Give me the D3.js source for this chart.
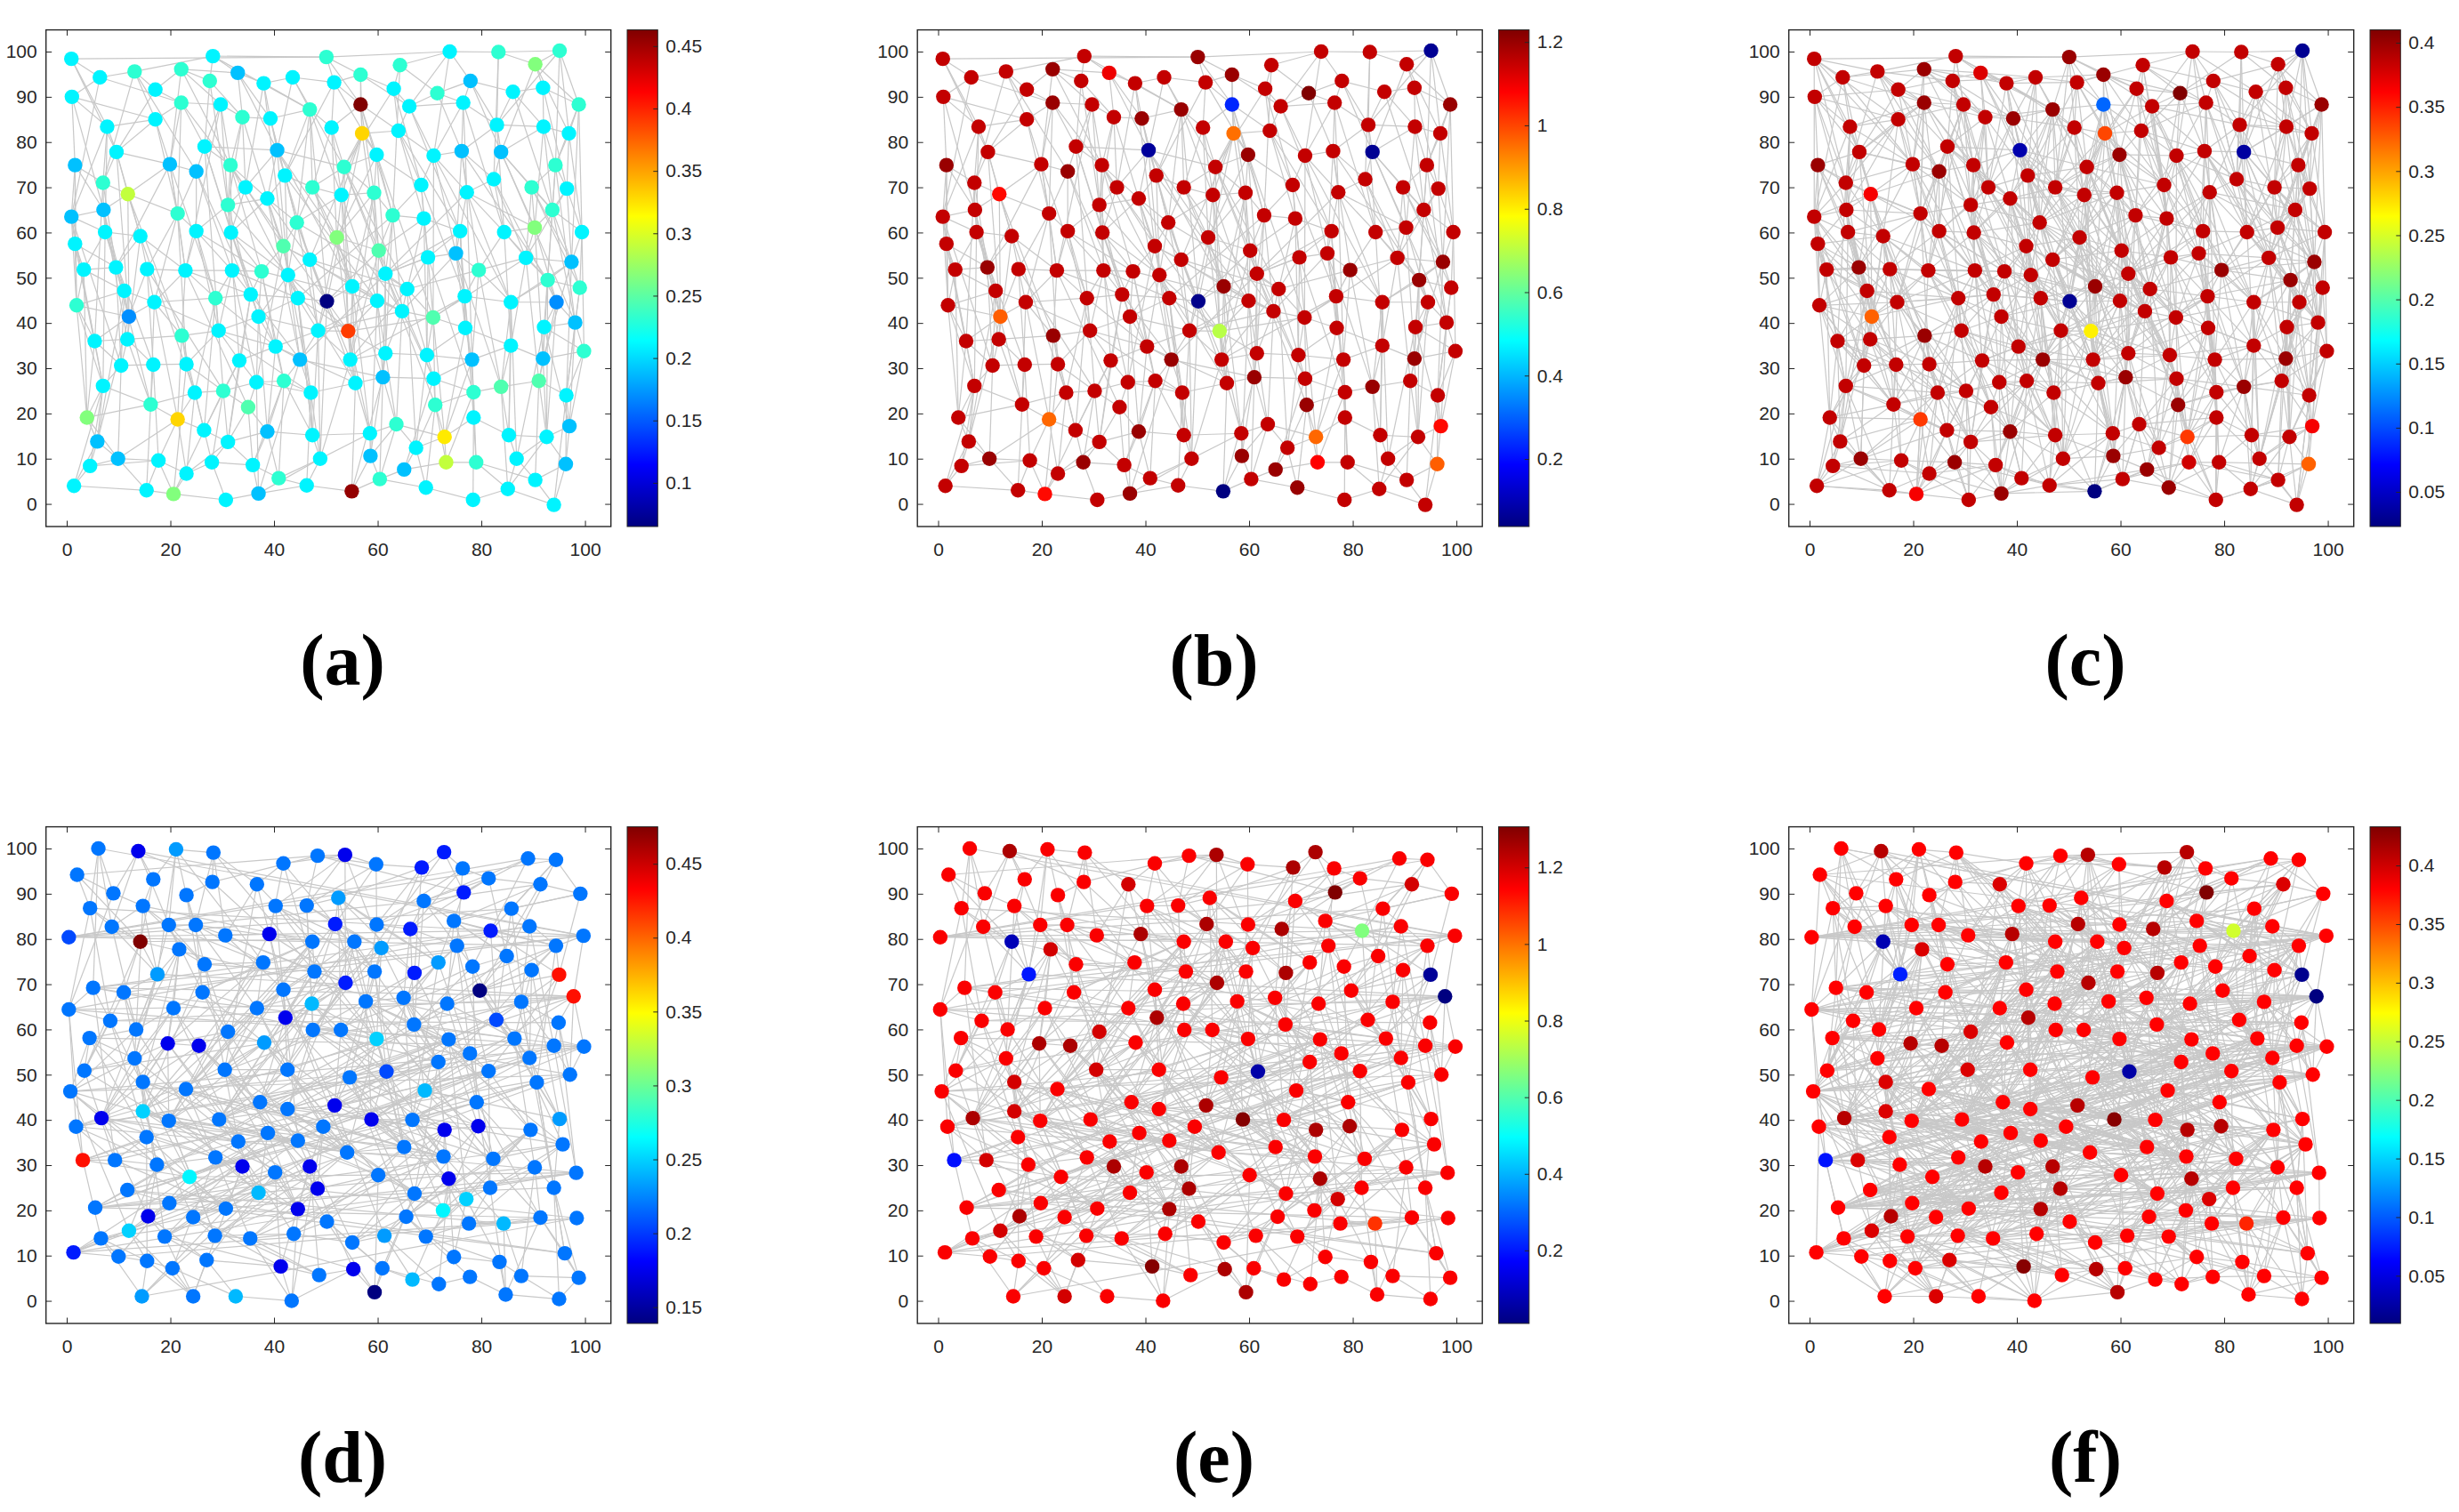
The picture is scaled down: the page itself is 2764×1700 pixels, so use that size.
<!DOCTYPE html>
<html>
<meta charset="utf-8">
<head>
  <script src="https://d3js.org/d3.v7.min.js"></script>
  <style>
    body { margin: 0; background: #fff; }
  </style>
</head>
<body>
<svg id="fig" width="2764" height="1700"></svg>
<script>
// node table of the upper network: [x, y, value (a), value (b), value (c)]
var topNodes = [
[0.9,98.4,.21,1.15,.385],[1.0,90.0,.21,1.15,.385],[6.4,94.3,.21,1.15,.385],[13.1,95.6,.232,1.15,.385],[17.1,91.6,.21,1.15,.385],
[22.1,96.1,.232,1.2,.4],[27.6,93.5,.232,1.15,.385],[28.2,99.0,.21,1.15,.385],[33.0,95.3,.19,1.1,.375],[38.0,93.0,.21,1.15,.385],
[43.6,94.3,.21,1.15,.385],[50.1,98.8,.232,1.2,.4],[51.6,93.2,.21,1.15,.385],[56.7,94.9,.232,1.2,.4],[63.1,91.8,.21,1.15,.385],
[64.3,97.0,.232,1.15,.385],[71.5,90.8,.232,1.229,.41],[73.9,100,.21,1.15,.385],[77.9,93.5,.19,1.15,.385],[83.3,99.9,.232,1.15,.385],
[86.1,91.1,.21,1.15,.385],[90.4,97.2,.265,1.15,.385],[91.9,92.0,.21,1.15,.385],[95.1,100.2,.232,.06,.03],
[7.8,83.4,.21,1.15,.385],[17.1,85.0,.21,1.15,.385],[22.1,88.7,.232,1.2,.4],[29.7,88.3,.21,1.15,.385],[33.9,85.5,.232,1.15,.385],
[39.3,85.2,.21,1.2,.4],[46.9,87.2,.232,1.2,.4],[51.1,83.2,.21,1.15,.385],[56.7,88.3,.463,.23,.11],[57.0,81.9,.33,.95,.335],
[64.0,82.5,.21,1.15,.385],[66.1,87.9,.21,1.15,.385],[76.5,88.7,.21,1.15,.385],[83.0,83.8,.21,1.15,.385],[92.0,83.4,.21,1.15,.385],
[96.9,81.9,.21,1.15,.385],[98.8,88.3,.232,1.2,.4],
[1.6,74.9,.19,1.2,.4],[7.0,71.0,.232,1.15,.385],[9.6,77.8,.21,1.15,.385],[19.9,75.1,.19,1.15,.385],[25.0,73.5,.19,1.2,.4],
[26.6,79.0,.21,1.15,.385],[31.6,74.9,.232,1.15,.385],[34.5,70.0,.21,1.15,.385],[40.6,78.2,.19,.07,.04],[42.1,72.6,.21,1.15,.385],
[47.4,70.0,.232,1.15,.385],[53.5,74.5,.232,1.15,.385],[59.8,77.2,.21,1.2,.4],[68.4,70.5,.21,1.15,.385],[70.8,77.0,.21,1.15,.385],
[76.2,78.0,.19,1.15,.385],[82.4,71.8,.21,1.15,.385],[83.8,77.8,.19,.06,.035],[89.7,70.0,.232,1.15,.385],[94.3,74.9,.232,1.15,.385],
[96.5,69.7,.21,1.15,.385],
[0.9,63.5,.19,1.15,.385],[7.1,65.0,.19,1.15,.385],[7.4,60.1,.21,1.15,.385],[11.8,68.5,.29,1.07,.365],[21.4,64.2,.232,1.15,.385],
[25.0,60.3,.21,1.15,.385],[31.1,66.1,.232,1.15,.385],[31.7,60.0,.21,1.15,.385],[38.7,67.5,.21,1.15,.385],[44.4,62.2,.232,1.15,.385],
[53.0,68.3,.21,1.15,.385],[59.3,68.8,.232,1.15,.385],[62.9,63.8,.232,1.15,.385],[68.9,63.1,.21,1.15,.385],[75.9,60.3,.21,1.15,.385],
[77.2,68.9,.21,1.15,.385],[84.4,60.1,.21,1.15,.385],[90.3,61.1,.265,1.15,.385],[93.7,65.0,.232,1.15,.385],[99.4,60.1,.21,1.15,.385],
[1.6,57.5,.21,1.15,.385],[3.3,51.8,.21,1.15,.385],[9.5,52.3,.21,1.2,.4],[14.2,59.2,.21,1.15,.385],[15.5,51.9,.21,1.15,.385],
[22.9,51.6,.21,1.15,.385],[31.9,51.6,.21,1.15,.385],[37.6,51.4,.232,1.15,.385],[41.8,57.0,.245,1.15,.385],[42.7,50.6,.21,1.15,.385],
[46.9,54.0,.21,1.15,.385],[52.1,58.9,.265,1.15,.385],[60.2,56.0,.245,1.15,.385],[61.5,50.9,.21,1.15,.385],[69.7,54.5,.21,1.15,.385],
[75.1,55.4,.19,1.15,.385],[79.5,51.7,.232,1.2,.4],[88.6,54.4,.21,1.15,.385],[97.4,53.5,.19,1.2,.4],
[1.9,43.9,.232,1.15,.385],[11.1,47.1,.21,1.15,.385],[12.0,41.4,.17,.97,.325],[16.9,44.6,.21,1.15,.385],[28.7,45.5,.232,1.15,.385],
[35.5,46.3,.21,1.15,.385],[37.0,41.4,.21,1.15,.385],[44.6,45.5,.21,1.15,.385],[50.2,44.8,.065,.05,.03],[55.1,48.1,.21,1.2,.4],
[59.9,44.9,.21,1.15,.385],[64.7,42.6,.21,1.15,.385],[65.7,47.5,.21,1.15,.385],[70.7,41.2,.245,1.15,.385],[76.8,45.9,.21,1.15,.385],
[85.7,44.6,.21,1.15,.385],[92.8,49.5,.232,1.2,.4],[94.5,44.6,.17,1.15,.385],[98.1,40.1,.19,1.15,.385],[99.0,47.8,.232,1.15,.385],
[5.4,36.0,.21,1.15,.385],[10.5,30.6,.21,1.15,.385],[11.7,36.4,.21,1.15,.385],[16.7,30.8,.21,1.15,.385],[22.2,37.2,.232,1.2,.4],
[23.1,30.9,.21,1.15,.385],[29.3,38.3,.21,1.15,.385],[33.3,31.7,.21,1.15,.385],[40.3,34.8,.21,1.15,.385],[45.0,31.9,.19,1.2,.4],
[48.5,38.3,.21,1.15,.385],[54.3,38.2,.39,.7,.27],[54.7,31.9,.21,1.15,.385],[61.5,33.3,.21,1.15,.385],[69.5,32.9,.21,1.15,.385],
[76.9,38.9,.21,1.15,.385],[78.2,31.9,.19,1.15,.385],[85.7,35.0,.21,1.15,.385],[91.9,32.1,.19,1.2,.4],[92.1,39.1,.21,1.15,.385],
[99.8,33.8,.232,1.15,.385],
[7.0,26.1,.21,1.15,.385],[16.2,22.0,.232,1.15,.385],[24.7,24.6,.21,1.15,.385],[30.2,25.0,.232,1.15,.385],[35.0,21.4,.245,1.15,.385],
[36.6,26.9,.21,1.15,.385],[41.9,27.2,.232,1.15,.385],[47.1,24.6,.21,1.15,.385],[55.7,26.7,.21,1.15,.385],[61.0,28.0,.19,1.2,.4],
[70.8,27.7,.21,1.15,.385],[71.1,21.9,.232,1.2,.4],[78.5,24.7,.232,1.15,.385],[83.8,25.9,.245,1.2,.4],[91.1,27.2,.245,1.15,.385],
[96.4,24.0,.21,1.15,.385],
[3.9,19.1,.265,1.15,.385],[5.9,13.8,.19,1.15,.385],[9.9,10.0,.19,1.2,.4],[21.4,18.7,.33,.96,.34],[26.5,16.3,.21,1.15,.385],
[31.1,13.7,.21,1.15,.385],[38.7,16.0,.19,1.2,.4],[47.4,15.2,.21,1.15,.385],[48.9,10.0,.21,1.15,.385],[58.5,15.6,.21,1.15,.385],
[58.6,10.6,.19,1.2,.4],[63.6,17.6,.232,1.15,.385],[67.4,12.4,.21,1.15,.385],[72.9,14.8,.322,.96,.34],[78.5,19.1,.21,1.15,.385],
[85.3,15.2,.21,1.15,.385],[86.8,10.0,.21,1.15,.385],[92.6,14.8,.21,1.15,.385],[97.0,17.2,.19,1.07,.365],
[1.4,4.0,.21,1.15,.385],[4.5,8.4,.21,1.15,.385],[15.4,3.0,.21,1.15,.385],[17.7,9.6,.21,1.15,.385],[20.6,2.2,.265,1.07,.365],
[23.1,6.7,.21,1.15,.385],[28.0,9.2,.21,1.2,.4],[30.7,0.9,.21,1.15,.385],[35.9,8.6,.21,1.15,.385],[37.0,2.3,.19,1.2,.4],
[40.9,5.7,.232,1.15,.385],[46.3,4.1,.21,1.15,.385],[55.0,2.8,.455,.038,.023],[60.4,5.5,.232,1.15,.385],[65.1,7.6,.19,1.2,.4],
[69.3,3.6,.21,1.2,.4],[73.2,9.2,.29,1.08,.38],[78.4,0.9,.21,1.15,.385],[79.0,9.2,.232,1.15,.385],[85.1,3.3,.21,1.15,.385],
[90.4,5.3,.21,1.15,.385],[94.0,-0.2,.21,1.15,.385],[96.3,8.8,.19,.97,.325]
];

// node table of the lower network: [x, y, value (d), value (e), value (f)]
var bottomNodes = [
[2.0,94.2,.22,1.15,.38],[6.1,100,.22,1.15,.38],[9.0,90.1,.22,1.15,.38],[13.8,99.4,.175,1.25,.41],[16.7,93.2,.22,1.15,.38],
[21.1,99.8,.232,1.15,.38],[23.1,89.7,.22,1.15,.38],[28.1,92.6,.22,1.15,.38],[28.3,99.1,.22,1.15,.38],[36.7,92.1,.22,1.2,.395],
[41.8,96.7,.22,1.15,.38],[48.4,98.4,.22,1.15,.38],[53.7,98.6,.175,1.25,.41],[59.7,96.5,.22,1.15,.38],[68.5,95.8,.19,1.25,.41],
[72.8,99.2,.19,1.25,.41],[76.4,95.6,.22,1.15,.38],[76.6,90.3,.19,1.306,.433],[81.4,93.4,.22,1.15,.38],[89.0,97.8,.22,1.15,.38],
[91.4,92.1,.22,1.2,.395],[94.4,97.5,.22,1.15,.38],[99.1,90.0,.22,1.15,.38],
[0.4,80.4,.205,1.15,.38],[4.5,86.8,.22,1.15,.38],[8.7,82.7,.22,1.15,.38],[14.7,87.3,.22,1.15,.38],[19.7,83.1,.22,1.15,.38],
[24.9,83.1,.22,1.15,.38],[30.6,80.8,.22,1.15,.38],[39.1,81.1,.175,1.25,.41],[40.3,87.3,.22,1.15,.38],[46.3,87.4,.22,1.15,.38],
[51.8,83.3,.19,1.25,.41],[52.4,89.1,.232,1.15,.38],[59.8,83.2,.22,1.15,.38],[66.3,82.2,.19,1.25,.41],[68.9,88.4,.22,1.15,.38],
[74.7,84.0,.22,1.15,.38],[81.8,81.8,.19,.66,.255],[85.8,86.7,.22,1.15,.38],[89.3,82.8,.22,1.15,.38],[99.7,80.7,.22,1.15,.38],
[14.2,79.4,.475,.08,.03],[17.5,72.2,.232,.2,.075],[21.7,77.7,.22,1.2,.395],[26.6,74.4,.22,1.15,.38],[37.9,74.8,.22,1.15,.38],
[47.4,79.4,.22,1.15,.38],[47.8,72.8,.22,1.15,.38],[53.8,70.3,.19,1.25,.41],[55.5,79.4,.22,1.15,.38],[59.4,72.8,.22,1.15,.38],
[60.7,78.0,.232,1.15,.38],[67.1,72.5,.19,1.25,.41],[71.7,74.8,.232,1.15,.38],[75.3,78.5,.22,1.15,.38],[78.3,73.9,.22,1.15,.38],
[84.9,76.2,.22,1.15,.38],[89.7,73.1,.22,1.15,.38],[94.4,78.5,.22,1.15,.38],[95.0,72.1,.428,.04,.015],
[0.4,64.4,.22,1.15,.38],[5.1,69.2,.22,1.15,.38],[8.4,61.9,.22,1.15,.38],[11.0,68.2,.22,1.15,.38],[13.4,60.0,.22,1.15,.38],
[20.6,64.7,.22,1.15,.38],[26.2,68.2,.22,1.15,.38],[31.1,59.5,.22,1.2,.395],[36.7,64.7,.22,1.15,.38],[41.8,68.8,.22,1.15,.38],
[42.2,62.6,.175,1.25,.41],[47.3,65.7,.242,1.15,.38],[47.5,59.9,.22,1.15,.38],[52.9,59.9,.22,1.15,.38],[57.7,66.2,.22,1.15,.38],
[65.0,67.0,.22,1.15,.38],[67.0,61.1,.22,1.15,.38],[73.4,65.7,.22,1.15,.38],[79.7,68.6,.139,1.15,.38],[82.9,62.1,.205,1.15,.38],
[87.7,66.1,.22,1.15,.38],[94.9,61.5,.22,1.15,.38],[97.8,67.3,.428,.0094,.0093],
[3.4,50.9,.22,1.15,.38],[4.4,58.1,.22,1.15,.38],[13.1,53.6,.22,1.15,.38],[19.5,56.9,.175,1.25,.41],[25.5,56.4,.175,1.25,.41],
[30.5,51.1,.22,1.2,.395],[38.1,57.1,.232,1.15,.38],[42.6,51.1,.22,1.15,.38],[59.8,57.9,.25,1.15,.38],[61.7,50.7,.205,.06,.025],
[71.7,52.8,.22,1.15,.38],[73.7,57.8,.22,1.15,.38],[77.8,54.7,.22,1.15,.38],[81.4,50.8,.22,1.15,.38],[86.4,58.0,.22,1.15,.38],
[89.3,53.7,.22,1.15,.38],[94.0,56.4,.22,1.15,.38],[97.1,50.0,.22,1.15,.38],[99.8,56.2,.22,1.15,.38],
[0.7,46.3,.22,1.15,.38],[6.7,40.4,.175,1.25,.41],[14.7,48.4,.22,1.2,.395],[14.7,41.9,.25,1.2,.395],[19.7,39.8,.22,1.15,.38],
[23.0,46.8,.22,1.15,.38],[29.4,40.1,.22,1.15,.38],[37.3,43.9,.22,1.15,.38],[42.6,42.4,.22,1.15,.38],[51.7,43.2,.175,1.25,.41],
[54.6,49.4,.22,1.15,.38],[58.8,40.1,.175,1.3,.43],[66.7,40.0,.22,1.15,.38],[69.1,46.5,.242,1.15,.38],[79.1,43.9,.22,1.15,.38],
[90.7,48.3,.22,1.15,.38],[95.1,40.2,.232,1.15,.38],
[1.8,38.5,.22,1.15,.38],[3.1,31.1,.428,.19,.07],[9.3,31.1,.22,1.2,.395],[15.4,36.2,.22,1.15,.38],[17.4,30.1,.22,1.15,.38],
[28.7,31.7,.22,1.15,.38],[33.1,35.2,.22,1.15,.38],[38.8,37.1,.22,1.15,.38],[44.6,35.4,.22,1.15,.38],[49.5,38.5,.22,1.15,.38],
[54.1,32.8,.22,1.15,.38],[65.1,34.0,.22,1.15,.38],[72.7,31.9,.22,1.15,.38],[72.9,37.8,.175,1.25,.41],[79.4,38.6,.175,1.25,.41],
[82.3,31.4,.22,1.15,.38],[89.5,37.8,.22,1.15,.38],[95.7,34.6,.22,1.15,.38],
[5.5,20.6,.22,1.15,.38],[11.7,24.5,.22,1.15,.38],[19.8,21.6,.22,1.15,.38],[23.7,27.4,.262,1.15,.38],[30.7,20.4,.22,1.15,.38],
[33.9,29.7,.175,1.25,.41],[37.0,23.9,.242,1.15,.38],[40.2,28.4,.22,1.15,.38],[44.6,20.3,.175,1.25,.41],[46.9,29.7,.175,1.25,.41],
[48.4,24.8,.175,1.25,.41],[60.1,27.8,.22,1.15,.38],[67.1,23.7,.22,1.15,.38],[72.6,20.0,.262,1.15,.38],[73.7,27.0,.175,1.25,.41],
[77.1,22.5,.25,1.2,.395],[81.7,25.0,.22,1.15,.38],[90.3,29.5,.22,1.15,.38],[94.0,25.0,.22,1.15,.38],[98.3,28.3,.22,1.15,.38],
[1.3,10.7,.19,1.15,.38],[6.6,13.8,.22,1.15,.38],[12.0,15.5,.25,1.2,.395],[15.7,18.7,.175,1.25,.41],[18.9,14.2,.22,1.15,.38],
[24.4,18.5,.22,1.15,.38],[28.6,14.4,.22,1.15,.38],[35.4,13.8,.22,1.15,.38],[43.8,14.8,.22,1.15,.38],[50.2,17.5,.22,1.15,.38],
[55.1,12.9,.22,1.15,.38],[61.3,14.4,.232,1.15,.38],[65.5,18.6,.22,1.15,.38],[69.3,14.2,.22,1.15,.38],[77.6,17.1,.22,1.15,.38],
[84.3,17.1,.242,1.08,.365],[91.4,18.4,.22,1.15,.38],[96.1,10.5,.22,1.15,.38],[98.4,18.3,.22,1.15,.38],
[10.0,9.8,.22,1.15,.38],[14.5,1.0,.232,1.15,.38],[15.5,8.8,.22,1.15,.38],[20.4,7.2,.22,1.15,.38],[24.4,1.0,.22,1.2,.395],
[27.0,9.0,.22,1.2,.395],[32.6,1.0,.242,1.15,.38],[41.3,7.6,.175,1.3,.43],[43.4,0.0,.22,1.15,.38],[48.7,5.7,.22,1.15,.38],
[55.3,7.0,.175,1.25,.41],[59.4,1.9,.139,1.25,.41],[60.9,7.2,.22,1.15,.38],[66.7,4.7,.242,1.15,.38],[71.8,3.7,.22,1.15,.38],
[74.7,9.7,.22,1.15,.38],[77.8,5.3,.22,1.15,.38],[83.5,8.6,.22,1.15,.38],[84.7,1.4,.22,1.15,.38],[87.7,5.5,.22,1.15,.38],
[95.0,0.4,.22,1.15,.38],[98.8,5.1,.22,1.15,.38]
];

// links between node indices (same index list is used for both networks)
var linksLocal = [
[0,2],[0,24],[0,11],[1,2],[1,24],[1,25],[1,41],[2,3],[2,26],[3,4],[3,7],[3,25],[4,5],[4,26],[4,43],[5,6],[5,8],[5,27],[6,7],[6,28],[6,46],[7,8],[7,11],[8,9],[8,28],[8,29],[9,10],[9,29],[9,30],[10,12],[10,30],[10,49],[11,12],[11,13],[11,17],[12,13],[12,31],[12,32],[13,14],[13,32],[13,35],[14,15],[14,34],[14,35],[15,16],[15,17],[16,18],[16,35],[16,36],[17,19],[17,18],[18,20],[18,36],[18,37],[19,21],[19,23],[20,22],[20,37],[20,38],[21,22],[21,23],[21,40],[22,38],[22,40],[23,40],[23,39],
[24,25],[24,43],[24,42],[25,26],[25,44],[25,43],[26,27],[26,44],[26,46],[27,28],[27,46],[27,47],[28,29],[28,47],[28,48],[29,30],[29,49],[29,50],[30,31],[30,50],[30,51],[31,32],[31,52],[31,51],[32,33],[32,34],[32,53],[33,34],[33,52],[33,53],[33,72],[34,35],[34,54],[34,55],[35,36],[35,55],[36,37],[36,56],[36,55],[37,38],[37,56],[37,58],[38,39],[38,58],[38,60],[39,40],[39,60],[39,61],[40,60],
[41,42],[41,62],[41,63],[42,43],[42,63],[42,65],[43,44],[43,65],[44,45],[44,65],[44,66],[45,46],[45,66],[45,67],[46,47],[46,49],[47,48],[47,68],[47,70],[48,49],[48,68],[48,69],[49,50],[49,70],[49,52],[50,51],[50,70],[50,71],[51,52],[51,71],[51,72],[52,53],[52,72],[52,73],[53,54],[53,73],[53,74],[54,55],[54,74],[54,75],[55,56],[55,77],[56,57],[56,77],[57,58],[57,77],[57,78],[58,59],[58,80],[59,60],[59,79],[59,80],[60,61],[60,80],[61,80],[61,81],
[62,63],[62,64],[62,82],[63,65],[63,64],[63,84],[64,85],[64,83],[64,84],[65,66],[65,85],[66,67],[66,86],[66,87],[67,68],[67,87],[67,88],[68,69],[68,70],[69,70],[69,88],[69,89],[70,71],[70,90],[71,72],[71,90],[71,92],[72,73],[72,93],[73,74],[73,93],[73,94],[74,75],[74,94],[74,95],[75,76],[75,96],[76,77],[76,97],[76,96],[77,78],[77,79],[78,79],[78,98],[78,99],[79,80],[79,99],[80,81],[80,100],[81,100],
[82,83],[82,84],[82,101],[83,84],[83,101],[83,102],[84,85],[84,102],[84,103],[85,86],[85,87],[86,87],[86,104],[86,103],[87,88],[87,104],[87,105],[88,89],[88,105],[88,106],[89,90],[89,106],[89,107],[90,91],[90,92],[91,92],[91,108],[91,107],[92,93],[92,109],[92,110],[93,94],[93,110],[94,95],[94,111],[95,96],[95,112],[95,113],[96,97],[96,113],[96,114],[97,98],[97,115],[98,99],[98,115],[98,116],[99,100],[99,117],[100,117],[100,120],
[101,102],[101,121],[101,103],[102,103],[102,104],[103,104],[103,123],[103,121],[104,105],[104,125],[105,106],[105,127],[106,107],[106,108],[107,108],[107,127],[107,129],[108,109],[108,131],[109,110],[109,131],[109,132],[110,111],[110,112],[111,112],[111,132],[111,134],[112,113],[112,114],[112,134],[113,114],[114,115],[114,135],[114,136],[115,116],[115,136],[116,117],[116,118],[116,138],[117,118],[117,120],[118,119],[118,140],[119,120],[119,141],[119,140],
[121,122],[121,123],[121,142],[122,123],[122,124],[122,142],[123,124],[123,125],[124,126],[124,143],[125,126],[125,127],[126,127],[126,144],[126,145],[127,128],[127,129],[128,129],[128,145],[128,147],[129,130],[129,131],[129,148],[130,131],[130,148],[130,149],[131,132],[131,133],[132,133],[132,134],[132,150],[133,134],[133,150],[134,135],[134,151],[135,136],[135,137],[135,152],[136,137],[136,138],[137,138],[137,154],[137,152],[138,139],[138,155],[139,140],[139,141],[139,156],[140,141],[141,157],
[142,143],[142,158],[142,159],[143,144],[143,158],[143,161],[144,145],[144,161],[144,162],[145,146],[145,147],[145,163],[146,147],[146,163],[146,164],[147,148],[147,149],[148,149],[148,164],[148,165],[149,150],[149,165],[149,166],[150,151],[150,167],[151,152],[151,169],[152,153],[152,154],[153,154],[153,170],[153,171],[154,155],[154,172],[155,156],[155,173],[156,157],[156,175],[157,176],
[158,159],[158,160],[159,160],[159,178],[159,177],[160,161],[160,178],[160,180],[161,162],[161,180],[161,182],[162,163],[162,183],[163,164],[163,183],[163,185],[164,165],[164,185],[164,187],[165,166],[165,167],[166,167],[166,188],[166,187],[167,168],[167,169],[168,169],[168,189],[168,190],[169,170],[169,171],[170,171],[170,191],[170,192],[171,172],[171,193],[172,173],[172,195],[173,174],[173,175],[174,175],[174,196],[174,197],[175,176],[175,199],[176,199],
[177,178],[177,179],[178,180],[179,180],[179,181],[180,181],[180,182],[181,182],[181,184],[182,183],[183,184],[183,185],[184,186],[185,186],[185,187],[186,188],[187,188],[188,189],[189,190],[190,191],[190,192],[191,193],[192,194],[193,195],[194,196],[195,196],[195,197],[196,198],[197,198],[197,199],[198,199]
];

var linksLong = [
[0,43],[1,63],[3,45],[5,47],[7,30],[8,49],[10,52],[11,32],[12,53],[13,33],[14,54],[16,56],[17,35],[18,58],[19,37],[21,39],[22,61],[23,37],[24,64],[25,66],[26,48],[27,68],[28,70],[29,71],[30,72],[31,93],[32,73],[33,94],[34,75],[35,76],[36,77],[37,78],[38,79],[39,81],[41,82],[42,84],[43,85],[44,87],[45,88],[46,69],[47,89],[48,90],[49,91],[50,92],[51,93],[52,94],[53,95],[54,96],[55,97],[56,98],[57,99],[58,79],[59,100],[60,117],[61,100],[62,101],[63,102],[65,103],[66,104],[67,105],[68,106],[69,107],[70,108],[71,109],[72,110],[73,111],[74,112],[75,113],[76,115],[77,116],[78,117],[79,118],[80,119],[81,120],[82,121],[84,122],[85,123],[86,124],[87,125],[88,127],[89,129],[91,130],[92,131],[93,132],[94,133],[95,134],[96,135],[97,136],[98,137],[99,138],[100,139],[101,142],[102,122],[104,143],[105,144],[106,128],[107,147],[108,149],[109,133],[110,150],[111,151],[112,152],[113,135],[114,153],[115,154],[116,155],[117,139],[118,156],[119,157],[121,158],[123,143],[125,161],[127,145],[128,162],[129,164],[131,165],[132,167],[133,166],[134,169],[135,170],[136,171],[137,172],[138,173],[139,175],[141,176],[142,177],[143,179],[144,182],[145,183],[146,185],[148,187],[149,188],[150,189],[151,190],[152,191],[153,193],[154,195],[155,196],[156,197],[157,199],[2,62],[6,68],[9,90],[15,74],[20,80],[27,87],[33,109],[40,100],[46,127],[52,132],[55,114],[62,121],[64,142],[71,129],[76,136],[83,158],[90,147],[95,151],[103,159],[108,165],[116,174],[120,157],[126,181],[130,186],[140,176],[124,180],[147,186],[153,192]
];

// longer links crossing the middle of the square
var linksCross = [
[41,101],[42,121],[43,103],[44,105],[45,106],[46,107],[47,108],[48,109],[49,110],[50,111],[51,112],[52,113],[53,114],[54,115],[55,116],[56,117],[57,118],[58,119],[59,120],[60,119],
[62,122],[63,123],[64,124],[65,125],[66,126],[67,127],[68,128],[69,129],[70,130],[71,131],[72,132],[73,133],[74,134],[75,135],[76,136],[77,137],[78,138],[79,139],[80,140],[81,141],
[82,142],[84,143],[85,144],[86,145],[87,146],[88,147],[89,148],[90,149],[91,150],[92,150],[93,151],[94,152],[95,153],[96,154],[97,155],[98,155],[99,156],[100,157],
[101,158],[102,159],[104,161],[105,162],[106,163],[107,164],[108,165],[109,166],[110,167],[111,168],[112,169],[113,170],[114,171],[115,172],[116,173],[117,175],[118,175],[119,176],
[24,62],[26,66],[28,68],[30,71],[31,72],[32,74],[34,76],[36,78],[38,80],[40,81],
[3,42],[5,44],[9,48],[12,50],[14,52],[17,55],[19,57],[21,58],[23,60],
[44,84],[47,88],[50,91],[53,93],[56,97],[59,99],[61,99],
[122,160],[125,162],[128,163],[131,166],[134,168],[137,171],[140,174],
[142,178],[145,181],[148,185],[151,189],[154,193],[157,198],[160,179],[163,182],[166,186],[169,190],[172,194],[175,196],
[30,109],[33,92],[49,93],[51,110],[52,95],[71,113],[72,111],[74,108],[90,112],[92,113],[93,131],[94,109],[110,133],[111,131],[108,132],[89,111],[91,132],[70,92],[73,110],[95,130],[96,110],[97,112],[98,113],[67,89],[68,91],[69,91],[75,94],[76,95],[77,95],[106,130],[107,131],[112,131],[113,133],[114,132],[115,133],[129,150],[130,151],[127,149],[88,108],[87,106],[99,114],[100,116],[105,129],[104,127]
];

// extra links of the denser networks (c) and (f)
var linksDense = [
[0,3],[0,25],[0,42],[1,4],[1,43],[2,5],[2,24],[2,44],[3,6],[3,26],[4,8],[4,27],[4,45],[5,9],[5,28],[6,10],[6,29],[6,47],[7,9],[7,27],[8,10],[8,30],[8,48],[9,12],[9,31],[9,49],[10,13],[10,29],[11,14],[11,30],[11,31],[12,15],[12,33],[12,51],[13,16],[13,34],[14,16],[14,33],[14,53],[15,18],[15,36],[16,19],[16,34],[16,54],[17,20],[17,36],[18,21],[18,38],[18,57],[19,22],[19,37],[20,23],[20,39],[20,58],[21,38],[22,39],[22,59],[23,38],
[24,26],[24,44],[24,63],[25,27],[25,45],[25,42],[26,28],[26,47],[26,43],[27,29],[27,45],[27,48],[28,30],[28,50],[28,46],[29,31],[29,48],[29,51],[30,32],[30,52],[30,49],[31,33],[31,53],[31,50],[32,35],[32,52],[32,54],[33,35],[33,54],[33,51],[34,36],[34,53],[34,56],[35,37],[35,54],[35,57],[36,38],[36,57],[37,39],[37,59],[37,57],[38,40],[38,59],[38,61],[39,59],[40,58],[40,61],
[41,43],[41,64],[41,65],[42,44],[42,62],[42,66],[43,45],[43,63],[44,46],[44,67],[44,68],[45,47],[45,68],[45,65],[46,48],[46,67],[46,70],[47,49],[47,69],[47,71],[48,50],[48,70],[48,67],[49,51],[49,71],[49,72],[50,52],[50,72],[50,69],[51,53],[51,73],[51,70],[52,54],[52,74],[52,71],[53,55],[53,75],[53,72],[54,56],[54,76],[54,73],[55,57],[55,76],[55,74],[56,58],[56,78],[56,75],[57,59],[57,79],[57,80],[58,60],[58,78],[59,61],[59,81],[59,78],[60,79],[60,81],[61,79],
[62,65],[62,83],[62,84],[63,66],[63,82],[63,85],[64,66],[64,86],[65,67],[65,84],[65,86],[66,68],[66,88],[66,85],[67,69],[67,86],[67,89],[68,71],[68,89],[68,88],[69,71],[69,90],[69,87],[70,72],[70,91],[70,89],[71,73],[71,91],[71,93],[72,74],[72,92],[72,94],[73,75],[73,95],[73,92],[74,76],[74,96],[74,93],[75,77],[75,97],[75,95],[76,78],[76,98],[77,80],[77,96],[77,98],[78,80],[78,97],[78,100],[79,81],[79,98],[79,100],[80,99],[81,99],
[82,85],[82,102],[82,103],[83,86],[83,104],[84,86],[84,101],[84,104],[85,88],[85,103],[85,105],[86,88],[86,105],[86,102],[87,89],[87,106],[87,103],[88,90],[88,107],[88,104],[89,91],[89,108],[89,105],[90,93],[90,108],[90,106],[91,93],[91,109],[91,106],[92,94],[92,108],[92,111],[93,95],[93,109],[93,111],[94,96],[94,110],[94,112],[95,97],[95,111],[95,114],[96,98],[96,112],[96,115],[97,99],[97,114],[97,116],[98,100],[98,117],[98,114],[99,118],[99,116],[99,119],[100,118],[100,119],
[101,104],[101,122],[101,123],[102,105],[102,121],[102,124],[103,105],[103,122],[103,124],[104,106],[104,126],[104,123],[105,107],[105,126],[105,128],[106,109],[106,127],[106,125],[107,109],[107,128],[107,130],[108,110],[108,130],[108,129],[109,111],[109,133],[109,130],[110,113],[110,132],[110,131],[111,113],[111,133],[111,135],[112,115],[112,135],[112,133],[113,115],[113,134],[113,136],[114,116],[114,134],[114,137],[115,117],[115,137],[115,138],[116,119],[116,139],[116,137],[117,119],[117,140],[117,138],[118,120],[118,139],[119,139],[120,140],[120,141],
[121,124],[121,143],[121,144],[122,125],[122,143],[122,158],[123,126],[123,142],[123,144],[124,125],[124,142],[124,145],[125,128],[125,144],[125,143],[126,128],[126,146],[126,143],[127,130],[127,146],[127,144],[128,130],[128,148],[128,144],[129,132],[129,147],[129,149],[130,132],[130,150],[130,147],[131,133],[131,149],[131,148],[132,135],[132,151],[132,149],[133,135],[133,151],[133,149],[134,136],[134,152],[134,150],[135,138],[135,153],[135,151],[136,139],[136,154],[136,153],[137,139],[137,155],[137,153],[138,140],[138,156],[138,154],[139,157],[139,155],[140,156],[140,157],[141,156],
[142,144],[142,160],[142,161],[143,145],[143,159],[143,162],[144,146],[144,163],[144,160],[145,148],[145,162],[145,164],[146,148],[146,165],[146,162],[147,149],[147,164],[147,165],[148,150],[148,166],[148,163],[149,151],[149,167],[149,164],[150,152],[150,168],[150,166],[151,153],[151,170],[151,168],[152,155],[152,171],[152,169],[153,155],[153,172],[153,169],[154,156],[154,173],[154,171],[155,157],[155,174],[155,172],[156,176],[156,174],[157,175],
[158,161],[158,177],[158,178],[159,161],[159,179],[160,162],[160,179],[160,177],[161,163],[161,181],[161,183],[162,164],[162,182],[162,184],[163,165],[163,184],[163,186],[164,166],[164,186],[164,188],[165,168],[165,187],[165,188],[166,168],[166,189],[167,170],[167,189],[167,188],[168,170],[168,191],[169,172],[169,190],[169,192],[170,172],[170,193],[171,173],[171,192],[171,194],[172,174],[172,194],[172,193],[173,176],[173,195],[173,196],[174,176],[174,198],[175,197],[175,198],[176,198],
[177,180],[177,181],[178,179],[178,182],[179,182],[180,183],[180,184],[181,183],[181,185],[182,185],[182,186],[183,186],[183,187],[184,185],[185,188],[186,187],[186,189],[187,189],[188,190],[188,191],[189,191],[190,193],[191,192],[191,194],[192,193],[192,195],[193,194],[193,197],[194,195],[194,197],[195,199],[196,197],[196,199]
];

var linksDenseLong = [
[0,44],[1,42],[2,43],[3,46],[4,44],[6,48],[7,47],[8,50],[9,51],[10,50],[11,51],[12,52],[13,53],[14,55],[15,54],[16,55],[17,56],[18,57],[19,58],[20,57],[21,59],[22,60],[23,61],
[24,65],[25,63],[26,67],[27,66],[28,69],[29,68],[30,70],[31,71],[32,72],[33,73],[34,74],[35,75],[36,76],[37,77],[38,78],[39,79],[40,80],
[41,84],[42,85],[43,86],[44,88],[45,87],[46,89],[47,90],[48,91],[49,92],[50,93],[51,94],[52,95],[53,96],[54,97],[55,98],[56,99],[57,100],[58,99],[59,98],[60,100],[61,100],
[62,102],[63,103],[64,104],[65,104],[66,105],[67,106],[68,107],[69,108],[70,109],[71,110],[72,111],[73,112],[74,113],[75,114],[76,116],[77,115],[78,118],[79,119],[80,120],[81,119],
[82,122],[83,123],[84,124],[85,125],[86,126],[87,127],[88,128],[89,130],[90,131],[91,131],[92,132],[93,133],[94,134],[95,135],[96,136],[97,137],[98,138],[99,139],[100,140],
[101,143],[102,142],[103,144],[104,145],[105,146],[106,147],[107,148],[108,148],[109,150],[110,151],[111,152],[112,153],[113,152],[114,154],[115,155],[116,156],[117,157],[118,157],[119,156],[120,157],
[121,159],[122,160],[123,161],[124,162],[125,163],[126,163],[127,164],[128,165],[129,166],[130,167],[131,167],[132,168],[133,168],[134,170],[135,171],[136,172],[137,173],[138,174],[139,174],[140,175],[141,175],
[142,179],[143,180],[144,181],[145,184],[146,186],[147,187],[148,188],[149,189],[150,190],[151,191],[152,192],[153,194],[154,194],[155,195],[156,196],[157,198],
[0,62],[5,66],[10,71],[15,75],[20,79],[25,85],[30,90],[35,96],[40,99],[45,104],[50,108],[55,113],[60,118],[64,123],[70,129],[75,134],[80,138],[85,143],[90,148],[95,152],[100,156],[105,163],[110,166],[115,171],[120,176],[125,181],[130,185],[135,191],[140,197],
[31,110],[32,109],[33,110],[49,109],[50,110],[51,111],[52,112],[53,113],[70,111],[71,112],[72,113],[73,114],[89,109],[90,110],[91,111],[92,112],[93,113],[94,114],[107,130],[108,131],[109,134],[110,134],[111,133],[112,132],[128,131],[129,133],[130,133],[131,134]
];

var xTicks = [0, 20, 40, 60, 80, 100];
var yTicks = [0, 10, 20, 30, 40, 50, 60, 70, 80, 90, 100];
var barTicksA = [0.1, 0.15, 0.2, 0.25, 0.3, 0.35, 0.4, 0.45];
var barTicksB = [0.2, 0.4, 0.6, 0.8, 1, 1.2];
var barTicksC = [0.05, 0.1, 0.15, 0.2, 0.25, 0.3, 0.35, 0.4];
var barTicksD = [0.15, 0.2, 0.25, 0.3, 0.35, 0.4, 0.45];
var barTicksE = [0.2, 0.4, 0.6, 0.8, 1, 1.2];
var barTicksF = [0.05, 0.1, 0.15, 0.2, 0.25, 0.3, 0.35, 0.4];
var panelLabels = ["(a)", "(b)", "(c)", "(d)", "(e)", "(f)"];

var sparse = linksLocal.concat(linksLong, linksCross);
var dense = sparse.concat(linksDense, linksDenseLong);

var panels = [
  {nodes: topNodes, col: 0, row: 0, k: 2, links: sparse, ticks: barTicksA},
  {nodes: topNodes, col: 1, row: 0, k: 3, links: sparse, ticks: barTicksB},
  {nodes: topNodes, col: 2, row: 0, k: 4, links: dense, ticks: barTicksC},
  {nodes: bottomNodes, col: 0, row: 1, k: 2, links: sparse, ticks: barTicksD},
  {nodes: bottomNodes, col: 1, row: 1, k: 3, links: sparse, ticks: barTicksE},
  {nodes: bottomNodes, col: 2, row: 1, k: 4, links: dense, ticks: barTicksF}
];

var svg = d3.select("#fig");
var cellW = 979.5, cellH = 896;
var frame = {left: 51.7, right: 686.7, top: 33.6, bottom: 592};
var bar = {left: 705, width: 34.3};
var axisColor = "#262626";
var tickFont = "'Liberation Sans', Arial, sans-serif";

var xScale = d3.scaleLinear().domain([-4, 105]).range([frame.left, frame.right]);
var yScale = d3.scaleLinear().domain([-5, 104.8]).range([frame.bottom, frame.top]);

// MATLAB "jet" colour map
var jetStops = [0, 0.125, 0.375, 0.625, 0.875, 1];
var jet = d3.scaleLinear()
    .domain(jetStops)
    .range(["#000080", "#0000ff", "#00ffff", "#ffff00", "#ff0000", "#800000"])
    .clamp(true);

var defs = svg.append("defs");
var grad = defs.append("linearGradient")
    .attr("id", "jetGrad")
    .attr("x1", 0).attr("y1", 1).attr("x2", 0).attr("y2", 0);
d3.range(0, 1.0001, 0.025).forEach(function(t) {
  grad.append("stop").attr("offset", t).attr("stop-color", jet(t));
});

function styleAxis(sel, showText) {
  sel.select(".domain").remove();
  sel.selectAll(".tick line").attr("stroke", axisColor).attr("stroke-width", 1);
  sel.selectAll(".tick text")
    .attr("fill", axisColor)
    .attr("font-family", tickFont)
    .attr("font-size", 21);
  if (!showText) sel.selectAll(".tick text").remove();
}

var fmt = function(d) { return String(+d.toFixed(2)); };

panels.forEach(function(p, i) {
  var g = svg.append("g")
    .attr("transform", "translate(" + (p.col * cellW) + "," + (p.row * cellH) + ")");

  var ext = d3.extent(p.nodes, function(d) { return d[p.k]; });
  var norm = d3.scaleLinear().domain(ext).range([0, 1]);

  // edges
  g.append("g").selectAll("line")
    .data(p.links)
    .join("line")
    .attr("x1", function(d) { return xScale(p.nodes[d[0]][0]); })
    .attr("y1", function(d) { return yScale(p.nodes[d[0]][1]); })
    .attr("x2", function(d) { return xScale(p.nodes[d[1]][0]); })
    .attr("y2", function(d) { return yScale(p.nodes[d[1]][1]); })
    .attr("stroke", "#c8c8c8")
    .attr("stroke-width", 1.2);

  // nodes
  g.append("g").selectAll("circle")
    .data(p.nodes)
    .join("circle")
    .attr("cx", function(d) { return xScale(d[0]); })
    .attr("cy", function(d) { return yScale(d[1]); })
    .attr("r", 8.2)
    .attr("fill", function(d) { return jet(norm(d[p.k])); });

  // axes box with inward ticks
  g.append("g").attr("transform", "translate(0," + frame.bottom + ")")
    .call(d3.axisBottom(xScale).tickValues(xTicks).tickSize(-6.5).tickPadding(18).tickSizeOuter(0))
    .call(styleAxis, true);
  g.append("g").attr("transform", "translate(0," + frame.top + ")")
    .call(d3.axisTop(xScale).tickValues(xTicks).tickSize(-6.5).tickSizeOuter(0))
    .call(styleAxis, false);
  g.append("g").attr("transform", "translate(" + frame.left + ",0)")
    .call(d3.axisLeft(yScale).tickValues(yTicks).tickSize(-6.5).tickPadding(10).tickSizeOuter(0))
    .call(styleAxis, true);
  g.append("g").attr("transform", "translate(" + frame.right + ",0)")
    .call(d3.axisRight(yScale).tickValues(yTicks).tickSize(-6.5).tickSizeOuter(0))
    .call(styleAxis, false);
  g.append("rect")
    .attr("x", frame.left).attr("y", frame.top)
    .attr("width", frame.right - frame.left).attr("height", frame.bottom - frame.top)
    .attr("fill", "none").attr("stroke", axisColor).attr("stroke-width", 1.4);

  // colour bar
  var cScale = d3.scaleLinear().domain(ext).range([frame.bottom, frame.top]);
  g.append("rect")
    .attr("x", bar.left).attr("y", frame.top)
    .attr("width", bar.width).attr("height", frame.bottom - frame.top)
    .attr("fill", "url(#jetGrad)")
    .attr("stroke", axisColor).attr("stroke-width", 1);
  g.append("g").attr("transform", "translate(" + (bar.left + bar.width) + ",0)")
    .call(d3.axisRight(cScale).tickValues(p.ticks).tickFormat(fmt).tickSize(-5).tickPadding(9).tickSizeOuter(0))
    .call(styleAxis, true);

  // panel label
  g.append("text")
    .attr("x", 385)
    .attr("y", 770)
    .attr("text-anchor", "middle")
    .attr("font-family", "'Liberation Serif', 'Times New Roman', serif")
    .attr("font-weight", "bold")
    .attr("font-size", 82)
    .attr("fill", "#000")
    .text(panelLabels[i]);
});
</script>
</body>
</html>
